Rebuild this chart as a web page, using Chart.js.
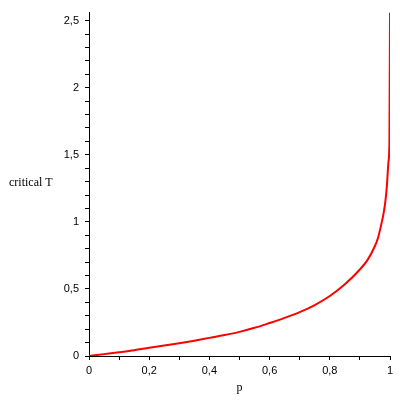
<!DOCTYPE html>
<html>
<head>
<meta charset="utf-8">
<script src="https://cdn.jsdelivr.net/npm/chart.js@4/dist/chart.umd.min.js"></script>
<style>
  html, body { margin: 0; padding: 0; background: #fff; }
  #wrap { width: 400px; height: 400px; }
</style>
</head>
<body>
<div id="wrap"><canvas id="chart" width="400" height="400"></canvas></div>
<script>
// values
const pValues = [0, 0.05, 0.1, 0.15, 0.2, 0.25, 0.3, 0.35, 0.4, 0.45, 0.5, 0.55, 0.6, 0.65, 0.7, 0.75, 0.8, 0.85, 0.9, 0.925, 0.95, 0.96, 0.97, 0.98, 0.985, 0.99, 0.995, 0.998, 1.0];
const tValues = [0, 0.014, 0.028, 0.043, 0.061, 0.078, 0.095, 0.114, 0.135, 0.156, 0.18, 0.21, 0.246, 0.284, 0.327, 0.38, 0.447, 0.535, 0.645, 0.715, 0.82, 0.88, 0.97, 1.08, 1.16, 1.28, 1.45, 1.59, 2.56];
const xTicks = [0, 0.1, 0.2, 0.3, 0.4, 0.5, 0.6, 0.7, 0.8, 0.9, 1];
const yTicks = [0, 0.1, 0.2, 0.3, 0.4, 0.5, 0.6, 0.7, 0.8, 0.9, 1, 1.1, 1.2, 1.3, 1.4, 1.5, 1.6, 1.7, 1.8, 1.9, 2, 2.1, 2.2, 2.3, 2.4, 2.5];
const xLabelEvery = 0.2;
const yLabelEvery = 0.5;
const xTitle = 'p';
const yTitle = 'critical T';

function fmt(v) {
    return String(Math.round(v * 10) / 10).replace('.', ',');
}

function isMajor(v, step) {
    const r = v / step;
    return Math.abs(r - Math.round(r)) < 1e-6;
}

const titlesPlugin = {
    id: 'titles',
    afterDraw(chart) {
        const ctx = chart.ctx;
        const area = chart.chartArea;
        ctx.save();
        ctx.fillStyle = '#000';
        ctx.font = '12px "Liberation Serif", "Times New Roman", serif';
        ctx.textBaseline = 'middle';
        ctx.textAlign = 'left';
        ctx.fillText(yTitle, 9, 183);
        ctx.textAlign = 'center';
        ctx.fillText(xTitle, (area.left + area.right) / 2, 388);
        ctx.restore();
    }
};

Chart.defaults.font.family = '"Liberation Sans", Arial, sans-serif';
Chart.defaults.font.size = 11;
Chart.defaults.color = '#000';

new Chart(document.getElementById('chart'), {
    type: 'line',
    data: {
        datasets: [{
            data: pValues.map((p, i) => ({ x: p, y: tValues[i] })),
            borderColor: '#ff0000',
            borderWidth: 2,
            pointRadius: 0,
            fill: false,
            cubicInterpolationMode: 'monotone',
        }]
    },
    options: {
        responsive: false,
        animation: false,
        events: [],
        layout: { padding: { top: 8, right: 10, left: 0, bottom: 0 } },
        plugins: {
            legend: { display: false },
            tooltip: { enabled: false },
        },
        scales: {
            x: {
                type: 'linear',
                min: 0,
                max: 1,
                afterFit: (s) => { s.height = 44; },
                afterBuildTicks: (s) => { s.ticks = xTicks.map(v => ({ value: v })); },
                border: { color: '#000', width: 1 },
                grid: { drawOnChartArea: false, color: '#000', tickLength: 4, tickWidth: 1 },
                ticks: {
                    maxRotation: 0,
                    autoSkip: false,
                    padding: 4,
                    callback: (v) => isMajor(v, xLabelEvery) ? fmt(v) : '',
                },
            },
            y: {
                type: 'linear',
                min: 0,
                max: 2.56,
                afterFit: (s) => { s.width = 89; },
                afterBuildTicks: (s) => { s.ticks = yTicks.map(v => ({ value: v })); },
                border: { color: '#000', width: 1 },
                grid: { drawOnChartArea: false, color: '#000', tickLength: 4, tickWidth: 1 },
                ticks: {
                    autoSkip: false,
                    padding: 6,
                    callback: (v) => isMajor(v, yLabelEvery) ? fmt(v) : '',
                },
            },
        },
    },
    plugins: [titlesPlugin],
});
</script>
</body>
</html>
